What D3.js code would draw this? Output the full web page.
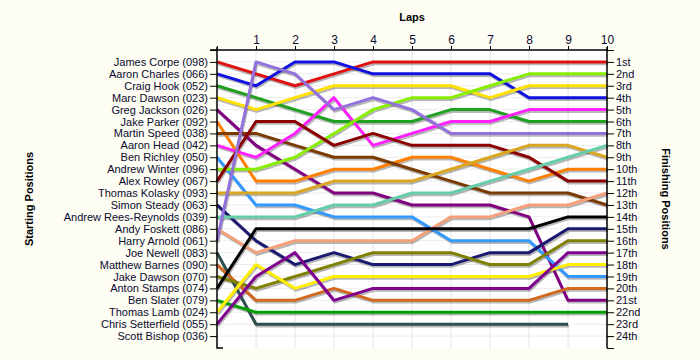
<!DOCTYPE html>
<html><head><meta charset="utf-8">
<script src="https://cdn.jsdelivr.net/npm/d3@7"></script>
<style>
html,body{margin:0;padding:0;background:#fdfdf3;}
svg{display:block;}
text{font-family:"Liberation Sans",Arial,sans-serif;}
</style></head>
<body>
<svg id="chart" width="700" height="360"></svg>
<script>
const laps = [0,1,2,3,4,5,6,7,8,9,10];
const lapTickLabels = ["1","2","3","4","5","6","7","8","9","10"];
const drivers = ["James Corpe (098)","Aaron Charles (066)","Craig Hook (052)","Marc Dawson (023)","Greg Jackson (026)","Jake Parker (092)","Martin Speed (038)","Aaron Head (042)","Ben Richley (050)","Andrew Winter (096)","Alex Rowley (067)","Thomas Kolasky (093)","Simon Steady (063)","Andrew Rees-Reynolds (039)","Andy Foskett (086)","Harry Arnold (061)","Joe Newell (083)","Matthew Barnes (090)","Jake Dawson (070)","Anton Stamps (074)","Ben Slater (079)","Thomas Lamb (024)","Chris Setterfield (055)","Scott Bishop (036)"];
const finishLabels = ["1st","2nd","3rd","4th","5th","6th","7th","8th","9th","10th","11th","12th","13th","14th","15th","16th","17th","18th","19th","20th","21st","22nd","23rd","24th"];
const colors = ["#e01010","#1010e0","#20a020","#ffe000","#800080","#ff8000","#7a3a00","#ff20ff","#3399ff","#88ee00","#8b0000","#daa520","#191970","#66cdaa","#f4a07a","#9370db","#2f4f4f","#d2691e","#808000","#000000","#00a000","#ffee00","#800090","#888888"];
const positions = [
 [1,2,3,2,1,1,1,1,1,1,1],
 [2,3,1,1,2,2,2,2,4,4,4],
 [3,4,5,6,6,6,5,5,6,6,6],
 [4,5,4,3,3,3,3,4,3,3,3],
 [5,8,10,12,12,13,13,13,14,21,21],
 [6,11,11,10,10,9,9,10,11,10,10],
 [7,7,8,9,9,10,11,12,12,12,13],
 [8,9,7,4,8,7,6,6,5,5,5],
 [9,13,13,14,14,14,16,16,16,19,19],
 [10,10,9,7,5,4,4,3,2,2,2],
 [11,6,6,8,7,8,8,8,9,11,11],
 [12,12,12,11,11,11,10,9,8,8,9],
 [13,16,18,17,18,18,18,17,17,15,15],
 [14,14,14,13,13,12,12,11,10,9,8],
 [15,17,16,16,16,16,14,14,13,13,12],
 [16,1,2,5,4,5,7,7,7,7,7],
 [17,23,23,23,23,23,23,23,23,23],
 [18,21,21,20,21,21,21,21,21,20,20],
 [19,20,19,18,17,17,17,18,18,16,16],
 [20,15,15,15,15,15,15,15,15,14,14],
 [21,22,22,22,22,22,22,22,22,22,22],
 [22,18,20,19,19,19,19,19,19,18,18],
 [23,19,17,21,20,20,20,20,20,17,17],
 []
];

const svg = d3.select("#chart");
const L = 217, R = 607, T = 50, B = 348;
const x = d3.scaleLinear().domain([0,10]).range([L,R]);
const y = d3.scaleLinear().domain([0,25]).range([T,B]);

svg.append("rect").attr("x",L).attr("y",T).attr("width",R-L).attr("height",B-T).attr("fill","#ffffff");

const grid = svg.append("g");
grid.selectAll("line.v").data(laps.slice(1)).join("line")
  .attr("x1",d=>x(d)).attr("x2",d=>x(d)).attr("y1",T).attr("y2",B)
  .attr("stroke","#e4e4e4").attr("stroke-width",1);
grid.selectAll("line.h").data(d3.range(1,25)).join("line")
  .attr("x1",L).attr("x2",R).attr("y1",d=>y(d)).attr("y2",d=>y(d))
  .attr("stroke","#ececec").attr("stroke-width",1);

const line = d3.line().x((d,i)=>x(i)).y(d=>y(d));
const series = drivers.map((name,i)=>({name, color:colors[i], pos:positions[i]})).filter(s=>s.pos.length>1);
const shadows = svg.append("g").attr("transform","translate(1,2)");
shadows.selectAll("path").data(series).join("path")
  .attr("d",d=>line(d.pos)).attr("fill","none")
  .attr("stroke","rgba(0,0,0,0.28)").attr("stroke-width",2.6).attr("stroke-linejoin","round");
const lines = svg.append("g");
lines.selectAll("path").data(series).join("path")
  .attr("d",d=>line(d.pos)).attr("fill","none")
  .attr("stroke",d=>d.color).attr("stroke-width",3).attr("stroke-linejoin","round");

const txtColor = "#0a0a30";
const leftAxis = d3.axisLeft(y).tickValues(d3.range(0,25)).tickSize(7).tickPadding(2)
  .tickFormat(d=> d>=1 ? drivers[d-1] : "");
const gl = svg.append("g").attr("transform",`translate(${L},0)`).call(leftAxis);
gl.select(".domain").attr("d",`M0,${T-3}V${B}H6`);
const rightAxis = d3.axisRight(y).tickValues(d3.range(0,26)).tickSize(7).tickPadding(2)
  .tickFormat(d=> (d>=1 && d<=24) ? finishLabels[d-1] : "");
const gr = svg.append("g").attr("transform",`translate(${R},0)`).call(rightAxis);
gr.select(".domain").attr("d",`M0,${T-3}V${B}`);
const topAxis = d3.axisTop(x).tickValues(laps).tickSize(4).tickPadding(2)
  .tickFormat(d=> d>=1 ? lapTickLabels[d-1] : "");
const gt = svg.append("g").attr("transform",`translate(0,${T})`).call(topAxis);
gt.select(".domain").attr("d",`M${L-7},0H${R}`);

[gl,gr,gt].forEach(g=>{
  g.selectAll("text").attr("font-size",11).attr("fill",txtColor).attr("font-family","Liberation Sans, Arial, sans-serif");
  g.selectAll("line").attr("stroke","#000");
  g.select(".domain").attr("stroke","#000").attr("stroke-width",1.5);
});
gt.selectAll("text").attr("font-size",12);

svg.append("text").attr("x",412).attr("y",21).attr("text-anchor","middle")
  .attr("font-size",11).attr("font-weight","bold").attr("fill","#000").text("Laps");
svg.append("text").attr("transform","translate(33,199) rotate(-90)").attr("text-anchor","middle")
  .attr("font-size",11).attr("font-weight","bold").attr("fill","#000").text("Starting Positions");
svg.append("text").attr("transform","translate(662,199) rotate(90)").attr("text-anchor","middle")
  .attr("font-size",11).attr("font-weight","bold").attr("fill","#000").text("Finishing Positions");
</script>
</body></html>
